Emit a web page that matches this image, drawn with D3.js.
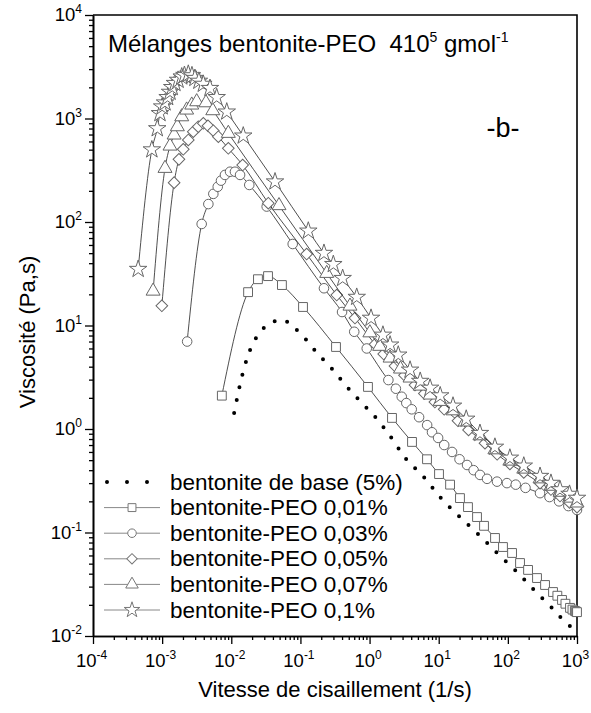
<!DOCTYPE html>
<html>
<head>
<meta charset="utf-8">
<script src="https://cdn.jsdelivr.net/npm/d3@7"></script>
<style>
body{margin:0;background:#fff}
text{font-family:"Liberation Sans",Arial,sans-serif;fill:#000}
</style>
</head>
<body>
<div id="chart"></div>
<script>
//values: [shear rate (1/s), viscosity (Pa,s)]
const xTicks = [1e-4,1e-3,1e-2,1e-1,1e0,1e1,1e2,1e3]
const yTicks = [1e-2,1e-1,1e0,1e1,1e2,1e3,1e4]
const legendLabels = ["bentonite de base (5%)","bentonite-PEO 0,01%","bentonite-PEO 0,03%","bentonite-PEO 0,05%","bentonite-PEO 0,07%","bentonite-PEO 0,1%"]

const base5 = [[0.0110,1.43],[0.0125,2.18],[0.0148,3.55],[0.0187,5.8],[0.0243,8.1],[0.0318,9.9],[0.0428,11.0],[0.056,11.3],[0.0755,9.9],[0.105,8.1],[0.174,5.42],[0.296,3.72],[0.472,2.55],[0.752,1.82],[1.24,1.28],[1.98,0.855],[3.48,0.50],[5.73,0.36],[10.8,0.215],[21,0.138],[38.3,0.0946],[74.5,0.0607],[136,0.0415],[255,0.0266],[435,0.0187],[693,0.0134],[933,0.0115]]

const peo001 = [[0.0073,2.1],[0.0175,21],[0.0243,28],[0.034,30],[0.054,24.6],[0.109,15.1],[0.327,6.2],[0.948,2.55],[2.11,1.28],[4.11,0.75],[6.77,0.51],[10.1,0.367],[14.6,0.29],[20.3,0.215],[26.5,0.176],[35.8,0.141],[45.2,0.116],[65.2,0.0885],[85,0.0724],[115,0.0634],[150,0.0507],[196,0.0435],[264,0.0363],[345,0.0311],[450,0.0266],[520,0.0245],[607,0.0223],[680,0.0205],[792,0.0187],[860,0.018],[930,0.0175],[970,0.0172],[1000,0.017]]

const peo003 = [[0.0023,7],[0.00373,95.7],[0.00466,149],[0.0055,187],[0.00637,219],[0.0071,251],[0.0081,285],[0.0096,306],[0.0113,306],[0.0134,285],[0.0182,228],[0.0325,141],[0.0773,61.3],[0.219,22.9],[0.4,13.5],[0.6,8.7],[0.91,6.0],[1.87,2.97],[2.4,2.45],[2.92,2.05],[3.4,1.78],[4.07,1.55],[5.2,1.3],[6.8,1.09],[8,0.93],[9.8,0.82],[12,0.7],[15.6,0.60],[20,0.51],[25.7,0.449],[32,0.4],[39.6,0.36],[50,0.33],[69.7,0.31],[97,0.30],[130,0.29],[180,0.27],[292,0.24],[400,0.22],[550,0.2],[750,0.18],[1000,0.165]]

const peo005 = [[9.9e-4,15.5],[1.49e-3,240],[1.75e-3,403],[2.02e-3,504],[2.39e-3,620],[2.82e-3,745],[3.33e-3,833],[3.94e-3,899],[4.6e-3,850],[5.5e-3,762],[6.5e-3,667],[9.06e-3,515],[0.0146,355],[0.0343,152],[0.123,49],[0.335,19.7],[0.615,11.8],[1.2,6.6],[1.6,5.3],[2.33,4.06],[3.2,3.3],[4.54,2.66],[6.2,2.2],[8.8,1.82],[12,1.55],[19,1.2],[27,0.98],[46.7,0.73],[70,0.57],[107,0.46],[170,0.38],[292,0.3],[420,0.26],[568,0.225],[780,0.195],[1000,0.176]]

const peo007 = [[7.4e-4,21.5],[1.1e-3,330],[1.3e-3,542],[1.49e-3,693],[1.66e-3,833],[1.92e-3,1040],[2.26e-3,1208],[2.68e-3,1350],[3.16e-3,1453],[4.3e-3,1420],[5.4e-3,1190],[9.06e-3,719],[0.049,144],[0.24,31.9],[0.521,15.4],[1.01,8.5],[1.4,6.3],[1.98,4.85],[2.8,3.8],[3.85,3.11],[5.4,2.6],[7.5,2.13],[10.5,1.85],[16.1,1.5],[24,1.17],[39.5,0.86],[65,0.63],[107,0.49],[170,0.41],[292,0.33],[420,0.28],[568,0.245],[780,0.215],[1000,0.193]]

const peo01 = [[4.5e-4,35],[7.1e-4,500],[8.5e-4,800],[9.3e-4,1120],[1.0e-3,1300],[1.1e-3,1420],[1.2e-3,1600],[1.3e-3,1800],[1.4e-3,2000],[1.53e-3,2190],[1.7e-3,2350],[1.92e-3,2530],[2.1e-3,2620],[2.39e-3,2690],[2.7e-3,2600],[2.98e-3,2450],[3.4e-3,2300],[3.94e-3,2150],[4.92e-3,1960],[6.15e-3,1600],[8.6e-3,1160],[0.0149,680],[0.0429,245],[0.13,82],[0.219,50],[0.299,39],[0.408,28.6],[0.652,18.8],[1.05,11.8],[1.56,8.1],[1.98,6.5],[2.6,5.2],[3.85,3.72],[5.4,2.9],[7.5,2.49],[10.5,2.1],[16.1,1.67],[25,1.25],[39.5,0.91],[65,0.67],[107,0.525],[170,0.44],[292,0.35],[420,0.3],[568,0.26],[780,0.235],[1000,0.215]]

let width = 591, height = 713
let mLeft = 93, mRight = 577, mTop = 15, mBottom = 636

let svg = d3.select("#chart")
.append("svg")
.attr("width", width)
.attr("height", height)

let x = d3.scaleLog().domain([1e-4,1e3]).range([mLeft,mRight])
let y = d3.scaleLog().domain([1e-2,1e4]).range([mBottom,mTop])

//minor tick values 2..9 in each decade
function minorTicks(ticks){
  let m = []
  ticks.slice(0,-1).forEach(t => { for(let k=2;k<10;k++) m.push(t*k) })
  return m
}

//axes
let gx = svg.append("g").attr("transform","translate(0,"+mBottom+")")
gx.call(d3.axisBottom(x).tickValues(minorTicks(xTicks)).tickSize(4).tickSizeOuter(0).tickFormat(""))
gx.append("g").call(d3.axisBottom(x).tickValues(xTicks).tickSize(8).tickSizeOuter(0).tickFormat(""))

let gy = svg.append("g").attr("transform","translate("+mLeft+",0)")
gy.call(d3.axisLeft(y).tickValues(minorTicks(yTicks)).tickSize(4).tickSizeOuter(0).tickFormat(""))
gy.append("g").call(d3.axisLeft(y).tickValues(yTicks).tickSize(8).tickSizeOuter(0).tickFormat(""))

svg.selectAll(".domain").attr("stroke","#000").attr("stroke-width",1.6)
svg.selectAll(".tick line").attr("stroke","#000").attr("stroke-width",1.3)

//top and right border
svg.append("path")
.attr("d","M"+mLeft+","+mTop+"H"+mRight+"V"+mBottom)
.attr("fill","none")
.attr("stroke","#000")
.attr("stroke-width",1.6)

//tick labels with superscript exponents
function powerLabel(sel, v){
  sel.append("tspan").text("10")
  sel.append("tspan").text(Math.round(Math.log10(v))).attr("font-size","12px").attr("dy","-8")
}
xTicks.forEach(v => {
  let t = svg.append("text")
  .attr("x", x(v)-1.5)
  .attr("y", mBottom+31)
  .attr("font-size","18.5px")
  .style("text-anchor","middle")
  powerLabel(t, v)
})
yTicks.forEach(v => {
  let t = svg.append("text")
  .attr("x", mLeft-11)
  .attr("y", y(v)+6)
  .attr("font-size","18.5px")
  .style("text-anchor","end")
  powerLabel(t, v)
})

//axis titles
svg.append("text")
.text("Vitesse de cisaillement (1/s)")
.attr("x", 335)
.attr("y", 697)
.attr("font-size","22px")
.style("text-anchor","middle")

svg.append("text")
.text("Viscosité (Pa,s)")
.attr("transform","translate(35,332) rotate(-90)")
.attr("font-size","22px")
.style("text-anchor","middle")

//title in the plot
let title = svg.append("text")
.attr("x",108)
.attr("y",52)
.attr("font-size","24px")
title.append("tspan").text("Mélanges bentonite-PEO\u00a0\u00a0410")
title.append("tspan").text("5").attr("font-size","14px").attr("dy","-10")
title.append("tspan").text(" gmol").attr("dy","10")
title.append("tspan").text("-1").attr("font-size","14px").attr("dy","-10")

svg.append("text")
.text("-b-")
.attr("x",503)
.attr("y",137)
.attr("font-size","27px")
.style("text-anchor","middle")

//markers
let symbols = [d3.symbolSquare, d3.symbolCircle, d3.symbolSquare, d3.symbolTriangle, d3.symbolStar]
let sizes = [78, 72, 68, 85, 95]
let rotations = [0, 0, 45, 0, 0]
let series = [peo001, peo003, peo005, peo007, peo01]

let line = d3.line()
.x(d => x(d[0]))
.y(d => y(d[1]))
.curve(d3.curveMonotoneX)

series.forEach((data,i) => {
  svg.append("path")
  .datum(data)
  .attr("d", line)
  .attr("fill","none")
  .attr("stroke","#222")
  .attr("stroke-width",0.8)

  svg.append("g")
  .selectAll("path")
  .data(data)
  .enter()
  .append("path")
  .attr("d", d3.symbol().type(symbols[i]).size(sizes[i]))
  .attr("transform", d => "translate("+x(d[0])+","+y(d[1])+") rotate("+rotations[i]+")")
  .attr("fill","#fff")
  .attr("stroke","#666")
  .attr("stroke-width",1)
})

//base bentonite, dotted
svg.append("path")
.datum(base5)
.attr("d", line)
.attr("fill","none")
.attr("stroke","#000")
.attr("stroke-width",4)
.attr("stroke-linecap","round")
.attr("stroke-dasharray","0,13")

//legend
legendLabels.forEach((name,i) => {
  let ly = 482 + i*25.6
  if(i == 0){
    svg.append("line")
    .attr("x1",107).attr("x2",148).attr("y1",ly).attr("y2",ly)
    .attr("stroke","#000")
    .attr("stroke-width",4)
    .attr("stroke-linecap","round")
    .attr("stroke-dasharray","0,20")
  } else {
    svg.append("line")
    .attr("x1",104).attr("x2",160).attr("y1",ly).attr("y2",ly)
    .attr("stroke","#888")
    .attr("stroke-width",1)
    svg.append("path")
    .attr("d", d3.symbol().type(symbols[i-1]).size(sizes[i-1]*0.8))
    .attr("transform","translate(132,"+ly+") rotate("+rotations[i-1]+")")
    .attr("fill","#fff")
    .attr("stroke","#777")
  }
  svg.append("text")
  .text(name)
  .attr("x",170)
  .attr("y",ly+7.5)
  .attr("font-size","22.5px")
})
</script>
</body>
</html>
